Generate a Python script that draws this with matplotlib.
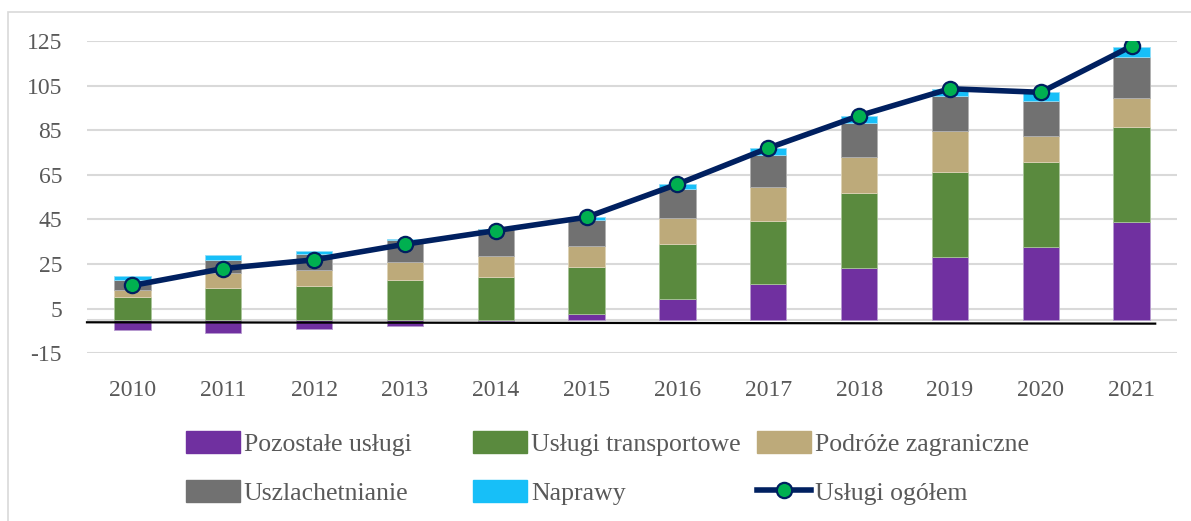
import matplotlib.pyplot as plt
import matplotlib.patches as Patches
from matplotlib.lines import Line2D
import numpy as np

plt.rcParams['font.family'] = ['Liberation Serif', 'DejaVu Serif']
plt.rcParams['axes.unicode_minus'] = False

# Data
years = ['2010', '2011', '2012', '2013', '2014', '2015',
         '2016', '2017', '2018', '2019', '2020', '2021']
pozostale = [-4.4, -5.9, -3.9, -2.7, -0.5, 2.6, 9.3, 16.1, 23.2, 28.3, 32.6, 43.9]
transportowe = [10.1, 14.1, 15.0, 17.8, 19.0, 20.9, 24.5, 28.4, 33.7, 38.1, 38.3, 42.4]
podroze = [3.1, 6.9, 7.3, 8.2, 9.7, 9.8, 11.9, 15.0, 16.1, 18.3, 11.7, 13.1]
uszlachetnianie = [4.8, 5.9, 7.3, 9.8, 11.8, 11.5, 13.1, 14.3, 15.4, 15.7, 15.3, 18.5]
naprawy = [1.8, 2.0, 1.2, 0.6, 0.4, 1.2, 2.1, 3.1, 3.0, 3.0, 4.3, 4.5]
ogolem = [15.4, 23.0, 26.9, 33.9, 40.0, 46.0, 60.8, 77.0, 91.5, 103.6, 102.0, 122.7]
y_ticks = [-15, 5, 25, 45, 65, 85, 105, 125]
baseline_y = [-1.1, -1.7]  # hand-drawn black line under the bars

col_purple = '#7030A0'
col_green = '#5A8A3E'
col_tan = '#BDAA7A'
col_gray = '#717171'
col_cyan = '#17BFF8'
col_navy = '#002060'
col_dot = '#00B050'
txt_col = '#595959'

fig = plt.figure(figsize=(11.91, 5.21), dpi=100)
W, H = 1191, 521
ax = fig.add_axes([87 / W, 1 - 353.3 / H, (1177 - 87) / W, (353.3 - 41) / H])

# chart-area border
fig.patches.append(Patches.Rectangle((8 / W, -0.05), 1.1, 1 - 12 / H + 0.05,
                                     transform=fig.transFigure, fill=False,
                                     edgecolor='#D9D9D9', linewidth=1.2, zorder=0))

x = np.arange(len(years))
bw = 0.40
poz = np.array(pozostale)
pos_base = np.where(poz > 0, poz, 0)

ax.bar(x, poz, bw, color=col_purple, edgecolor='#B79BD0', linewidth=0.6, zorder=3)
bottom = pos_base.copy()
for vals, c, ec in [(transportowe, col_green, '#A9C59A'),
                    (podroze, col_tan, '#DDD2B6'),
                    (uszlachetnianie, col_gray, '#B0B0B0'),
                    (naprawy, col_cyan, '#8FDDF8')]:
    ax.bar(x, vals, bw, bottom=bottom, color=c, edgecolor=ec, linewidth=0.6, zorder=3)
    bottom = bottom + np.array(vals)

ax.plot(x, ogolem, color=col_navy, linewidth=4, marker='o', markersize=11,
        markerfacecolor=col_dot, markeredgecolor=col_navy, markeredgewidth=1.6, zorder=5)

ax.axhline(0, color='#D9D9D9', linewidth=1.5, zorder=1)
ax.plot([-0.5, 11.26], baseline_y, color='black', linewidth=1.6, zorder=4, clip_on=False)

ax.set_xlim(-0.5, 11.5)
ax.set_ylim(-15, 125)
ax.set_yticks(y_ticks)
ax.set_xticks(x)
ax.set_xticklabels(years)
ax.grid(axis='y', color='#D9D9D9', linewidth=1.5, zorder=0)
ax.set_axisbelow(True)
for s in ax.spines.values():
    s.set_visible(False)
ax.tick_params(axis='both', length=0, labelsize=17, labelcolor=txt_col)
ax.tick_params(axis='y', pad=18)
ax.tick_params(axis='x', pad=19)

# legend, built as three columns of two rows
lg_kw = dict(loc='upper left', frameon=False, borderpad=0, borderaxespad=0,
             handlelength=2.1, handleheight=0.95, handletextpad=0.15,
             labelspacing=0.95, fontsize=18.5, labelcolor=txt_col)
columns = [
    ([Patches.Patch(color=col_purple), Patches.Patch(color=col_gray)],
     ['Pozostałe usługi', 'Uszlachetnianie'], 186),
    ([Patches.Patch(color=col_green), Patches.Patch(color=col_cyan)],
     ['Usługi transportowe', 'Naprawy'], 473),
    ([Patches.Patch(color=col_tan),
      Line2D([], [], color=col_navy, linewidth=4, marker='o', markersize=11,
             markerfacecolor=col_dot, markeredgecolor=col_navy, markeredgewidth=1.6)],
     ['Podróże zagraniczne', 'Usługi ogółem'], 757),
]
for handles, labels, px in columns:
    lg = fig.legend(handles, labels, bbox_to_anchor=(px / W, 1 - 431 / H), **lg_kw)

fig.savefig('out.png', dpi=100)
